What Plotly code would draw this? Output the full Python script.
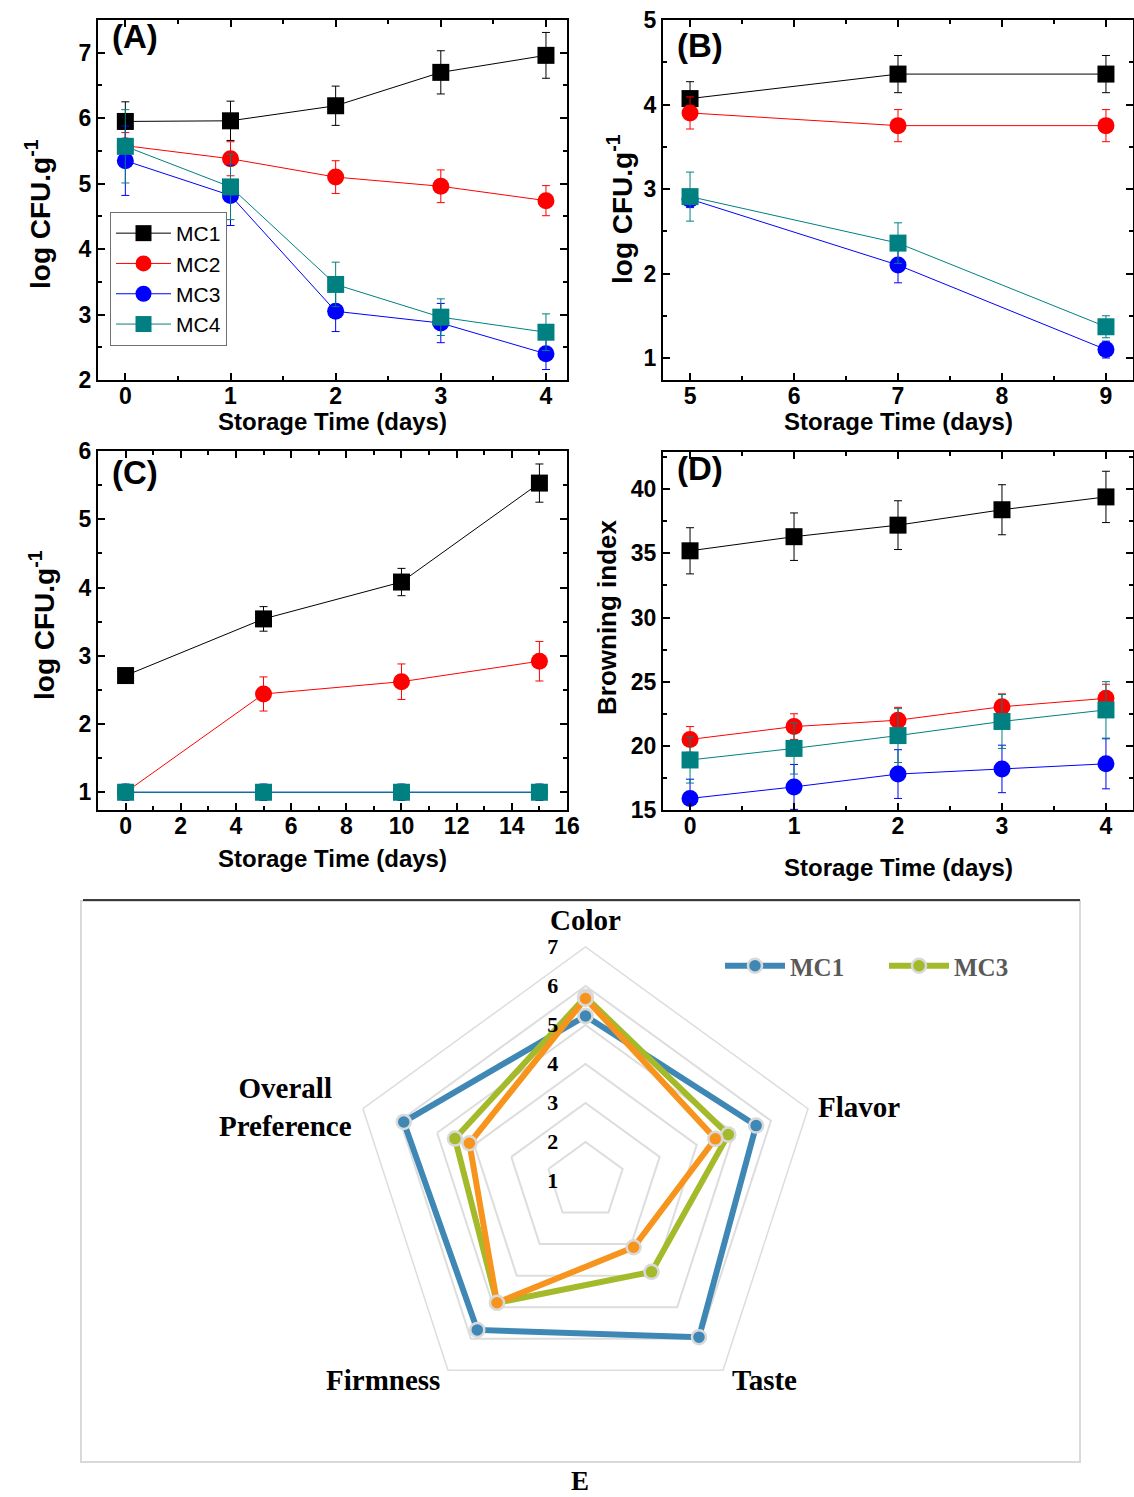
import plotly.graph_objects as go

# ---------------- data ----------------
series = ["MC1", "MC2", "MC3", "MC4"]
colors = {"MC1": "#000000", "MC2": "#FF0000", "MC3": "#0000FF", "MC4": "#008080"}
symbols = {"MC1": "square", "MC2": "circle", "MC3": "circle", "MC4": "square"}

# Panel A (log CFU/g, days 0-4)
a_days = [0, 1, 2, 3, 4]
a_mc1 = [5.95, 5.96, 6.19, 6.70, 6.96]
a_mc1_err = [0.30, 0.30, 0.30, 0.33, 0.35]
a_mc2 = [5.58, 5.38, 5.10, 4.96, 4.74]
a_mc2_err = [0.20, 0.26, 0.25, 0.25, 0.23]
a_mc3 = [5.35, 4.82, 3.05, 2.87, 2.40]
a_mc3_err = [0.53, 0.46, 0.31, 0.30, 0.24]
a_mc4 = [5.57, 4.95, 3.46, 2.96, 2.73]
a_mc4_err = [0.56, 0.50, 0.34, 0.28, 0.28]

# Panel B (days 5-9)
b_days = [5, 7, 9]
b_mc1 = [4.07, 4.36, 4.36]
b_mc1_err = [0.20, 0.22, 0.22]
b_mc2 = [3.90, 3.75, 3.75]
b_mc2_err = [0.19, 0.19, 0.19]
b_mc3 = [2.88, 2.10, 1.10]
b_mc3_err = [0.10, 0.21, 0.10]
b_mc4 = [2.91, 2.36, 1.37]
b_mc4_err = [0.29, 0.24, 0.13]

# Panel C (days 0-15)
c_days = [0, 5, 10, 15]
c_mc1 = [2.71, 3.54, 4.08, 5.53]
c_mc1_err = [0.10, 0.18, 0.20, 0.28]
c_mc2 = [1.00, 2.44, 2.62, 2.92]
c_mc2_err = [0.06, 0.25, 0.26, 0.29]
c_mc3 = [1.00, 1.00, 1.00, 1.00]
c_mc3_err = [0.12, 0.12, 0.12, 0.12]
c_mc4 = [1.00, 1.00, 1.00, 1.00]
c_mc4_err = [0.08, 0.08, 0.08, 0.08]

# Panel D (browning index, days 0-4)
d_days = [0, 1, 2, 3, 4]
d_mc1 = [35.2, 36.3, 37.2, 38.4, 39.4]
d_mc1_err = [1.8, 1.85, 1.9, 1.95, 2.0]
d_mc2 = [20.5, 21.5, 22.0, 23.05, 23.7]
d_mc2_err = [1.0, 1.0, 1.0, 1.0, 1.1]
d_mc3 = [15.9, 16.8, 17.8, 18.2, 18.6]
d_mc3_err = [1.5, 1.75, 1.9, 1.85, 1.95]
d_mc4 = [18.9, 19.8, 20.8, 21.9, 22.8]
d_mc4_err = [1.8, 2.0, 2.1, 2.1, 2.2]

# Panel E (sensory radar)
e_attributes = ["Color", "Flavor", "Taste", "Firmness", "Overall<br>Preference"]
e_mc1 = [5.23, 5.60, 5.95, 5.72, 5.90]
e_mc3 = [5.72, 4.85, 3.88, 4.86, 4.52]
e_other = [5.68, 4.50, 3.10, 4.86, 4.13]
e_colors = {"MC1": "#3F88B5", "MC3": "#A5BA2A", "other": "#F7941D"}

x_title = "Storage Time (days)"
y_title_cfu = "log CFU.g<sup>-1</sup>"
y_title_bi = "Browning index"

# ---------------- figure ----------------
W, H = 1134, 1497
fig = go.Figure()

SANS = "Liberation Sans"
SERIF = "Liberation Serif"


def px_x(p):
    return p / W


def px_y(p):
    return 1 - p / H


panels = [
    ("x", "y", a_days, [(a_mc1, a_mc1_err), (a_mc2, a_mc2_err), (a_mc3, a_mc3_err), (a_mc4, a_mc4_err)], True),
    ("x2", "y2", b_days, [(b_mc1, b_mc1_err), (b_mc2, b_mc2_err), (b_mc3, b_mc3_err), (b_mc4, b_mc4_err)], False),
    ("x3", "y3", c_days, [(c_mc1, c_mc1_err), (c_mc2, c_mc2_err), (c_mc3, c_mc3_err), (c_mc4, c_mc4_err)], False),
    ("x4", "y4", d_days, [(d_mc1, d_mc1_err), (d_mc2, d_mc2_err), (d_mc3, d_mc3_err), (d_mc4, d_mc4_err)], False),
]

for xa, ya, days, data, show in panels:
    for name, (vals, errs) in zip(series, data):
        c = colors[name]
        fig.add_trace(go.Scatter(
            x=days, y=vals, xaxis=xa, yaxis=ya, name=name, showlegend=show,
            mode="lines+markers",
            line=dict(color=c, width=1),
            marker=dict(symbol=symbols[name], size=17, color=c, line=dict(width=0)),
            error_y=dict(type="data", array=errs, color=c, thickness=1, width=4),
            legend="legend",
        ))

# radar
for name, vals, col, show in [("MC1", e_mc1, e_colors["MC1"], True),
                              ("MC3", e_mc3, e_colors["MC3"], True),
                              ("MC4", e_other, e_colors["other"], False)]:
    fig.add_trace(go.Scatterpolar(
        r=vals + vals[:1], theta=e_attributes + e_attributes[:1],
        name=name, showlegend=show, legend="legend2",
        mode="lines+markers",
        line=dict(color=col, width=6),
        marker=dict(size=14, color=col, line=dict(color="#D9D9D9", width=2.5)),
    ))

axis_common = dict(
    showline=True, linecolor="black", linewidth=2, mirror="allticks",
    ticks="inside", ticklen=7, tickwidth=2, tickcolor="black",
    showgrid=False, zeroline=False, automargin=False,
    tickfont=dict(family=SANS, size=23, color="black", weight="bold"),
    minor=dict(ticks="inside", ticklen=4, tickwidth=1.5, tickcolor="black"),
)
xaxis_extra = dict(ticklabelstandoff=-6)
title_font = dict(family=SANS, size=24, color="black", weight="bold")
ytitle_font = dict(family=SANS, size=28, color="black", weight="bold")
btitle_font = dict(family=SANS, size=26, color="black", weight="bold")
cat_font = dict(family=SERIF, size=29, color="black", weight="bold")

layout = dict(
    width=W, height=H,
    margin=dict(l=0, r=0, t=0, b=0, autoexpand=False),
    paper_bgcolor="white", plot_bgcolor="white",
    showlegend=True,
    xaxis=dict(axis_common, **xaxis_extra, domain=[px_x(98), px_x(567)], range=[-0.26, 4.2], dtick=1,
               minor=dict(axis_common["minor"], dtick=0.5), anchor="y"),
    yaxis=dict(axis_common, domain=[px_y(380), px_y(20)], range=[2, 7.5], dtick=1,
               minor=dict(axis_common["minor"], dtick=0.5), anchor="x"),
    xaxis2=dict(axis_common, **xaxis_extra, domain=[px_x(663), px_x(1133)], range=[4.74, 9.26], dtick=1,
                minor=dict(axis_common["minor"], dtick=0.5), anchor="y2"),
    yaxis2=dict(axis_common, domain=[px_y(380), px_y(20)], range=[0.74, 5], dtick=1,
                minor=dict(axis_common["minor"], dtick=0.5), anchor="x2"),
    xaxis3=dict(axis_common, **xaxis_extra, domain=[px_x(98), px_x(567)], range=[-1, 16], dtick=2,
                minor=dict(axis_common["minor"], dtick=1), anchor="y3"),
    yaxis3=dict(axis_common, domain=[px_y(810), px_y(451)], range=[0.74, 6], dtick=1,
                minor=dict(axis_common["minor"], dtick=0.5), anchor="x3"),
    xaxis4=dict(axis_common, **xaxis_extra, domain=[px_x(663), px_x(1133)], range=[-0.26, 4.26], dtick=1,
                minor=dict(axis_common["minor"], dtick=0.5), anchor="y4"),
    yaxis4=dict(axis_common, domain=[px_y(810), px_y(452)], range=[15, 42.9], dtick=5,
                minor=dict(axis_common["minor"], dtick=2.5), anchor="x4"),
    legend=dict(
        x=px_x(110), y=px_y(212), xanchor="left", yanchor="top",
        bgcolor="white", bordercolor="#707070", borderwidth=1,
        font=dict(family=SANS, size=21, color="black"),
        tracegroupgap=0, itemwidth=55,
    ),
    legend2=dict(
        orientation="h", x=px_x(720), y=px_y(966), xanchor="left", yanchor="middle",
        font=dict(family=SERIF, size=25, color="#595959", weight="bold"),
        itemwidth=60, entrywidth=89, bgcolor="rgba(0,0,0,0)",
    ),
    polar=dict(
        domain=dict(x=[px_x(585.5 - 234), px_x(585.5 + 234)], y=[px_y(1181 + 234), px_y(1181 - 234)]),
        bgcolor="white",
        gridshape="linear",
        radialaxis=dict(range=[1, 7], dtick=1, angle=90, side="counterclockwise",
                        showline=False, ticks="outside", ticklen=19, tickcolor="rgba(0,0,0,0)",
                        tickangle=90,
                        gridcolor="#DDDDDD", gridwidth=1.5,
                        tickfont=dict(family=SERIF, size=22, color="black", weight="bold")),
        angularaxis=dict(rotation=90, direction="clockwise", showgrid=False,
                         showline=True, linecolor="#DDDDDD", linewidth=1.5, ticks="",
                         showticklabels=False,
                         categoryorder="array", categoryarray=e_attributes),
    ),
)
fig.update_layout(**layout)

# x-axis titles
for xr, ypx in [("x", 421), ("x2", 421), ("x3", 858), ("x4", 868)]:
    fig.add_annotation(text=x_title, xref=xr + " domain", yref="paper", x=0.5, y=px_y(ypx),
                       xanchor="center", yanchor="middle", showarrow=False, font=title_font)

# y-axis titles
for xpx, ypx, txt, fnt in [(38, 214, y_title_cfu, ytitle_font), (620, 209, y_title_cfu, ytitle_font),
                           (42, 625, y_title_cfu, ytitle_font), (607, 617, y_title_bi, btitle_font)]:
    fig.add_annotation(text=txt, xref="paper", yref="paper", x=px_x(xpx), y=px_y(ypx),
                       xanchor="center", yanchor="middle", textangle=-90, showarrow=False, font=fnt)

# panel labels
for xr, lab, ys in [("x", "(A)", 4), ("x2", "(B)", -5), ("x3", "(C)", -1), ("x4", "(D)", 4)]:
    yr = xr.replace("x", "y")
    fig.add_annotation(
        text=lab, xref=xr + " domain", yref=yr + " domain", x=0.025, y=1.0, yshift=ys,
        xanchor="left", yanchor="top", showarrow=False,
        font=dict(family=SANS, size=33, color="black", weight="bold"),
    )

# radar category labels
for lab, xpx, ypx in zip(e_attributes, [585, 859, 764, 383, 285], [920, 1107, 1380, 1380, 1107]):
    fig.add_annotation(text=lab, xref="paper", yref="paper", x=px_x(xpx), y=px_y(ypx),
                       xanchor="center", yanchor="middle", showarrow=False, font=cat_font)

# radar frame and caption
fig.add_shape(type="rect", xref="paper", yref="paper",
              x0=px_x(81), x1=px_x(1080), y0=px_y(1462), y1=px_y(901),
              line=dict(color="#D9D9D9", width=2), layer="below")
fig.add_shape(type="line", xref="paper", yref="paper",
              x0=px_x(83), x1=px_x(1080), y0=px_y(900), y1=px_y(900),
              line=dict(color="black", width=1.5))
fig.add_annotation(text="E", xref="paper", yref="paper", x=px_x(580), y=px_y(1481),
                   xanchor="center", yanchor="middle",
                   showarrow=False, font=dict(family=SERIF, size=27, color="black", weight="bold"))

post = ("document.documentElement.style.margin='0px';document.body.style.margin='0px';"
        "document.body.style.overflow='hidden';"
        "var d=document.getElementById('{plot_id}');d.style.position='fixed';"
        "d.style.left='0px';d.style.top='0px';")
fig.write_html("out.html", post_script=post, config={"displayModeBar": False})
